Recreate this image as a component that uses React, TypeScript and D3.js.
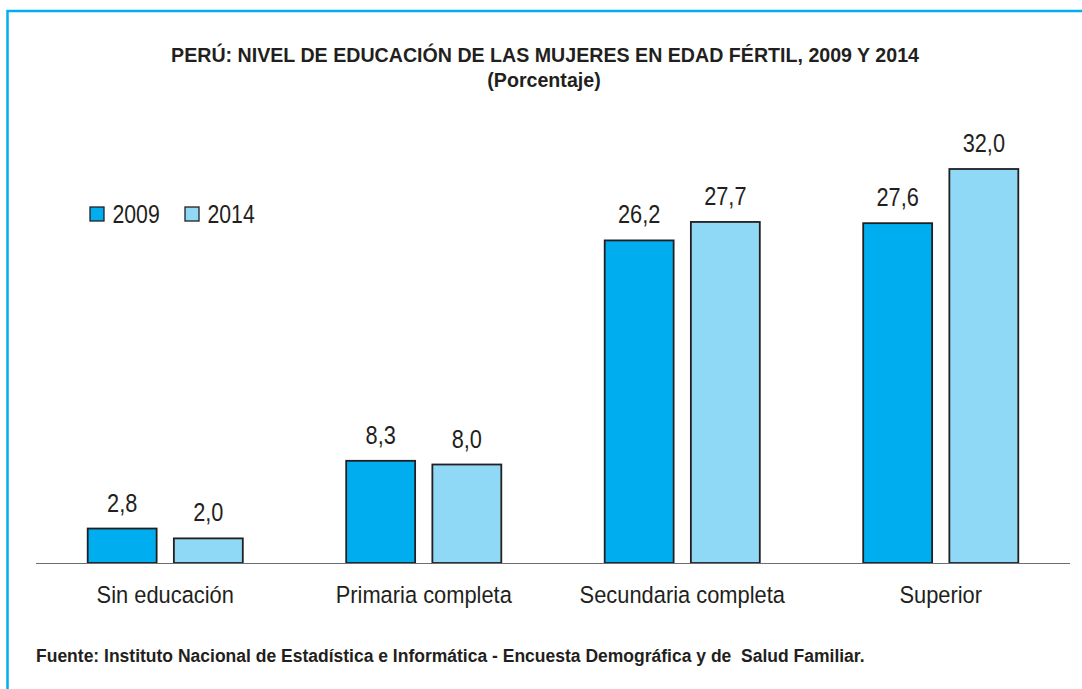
import React, { useRef, useEffect } from 'react';
import * as d3 from 'd3';

const categories = ['Sin educación', 'Primaria completa', 'Secundaria completa', 'Superior'];
const seriesNames = ['2009', '2014'];
const values2009 = [2.8, 8.3, 26.2, 27.6];
const values2014 = [2.0, 8.0, 27.7, 32.0];

const title = 'PERÚ: NIVEL DE EDUCACIÓN DE LAS MUJERES EN EDAD FÉRTIL, 2009 Y 2014';
const subtitle = '(Porcentaje)';
const source = 'Fuente: Instituto Nacional de Estadística e Informática - Encuesta Demográfica y de  Salud Familiar.';

const App = () => {
  const svgRef = useRef(null);

  useEffect(() => {
    const width = 1082;
    const height = 689;
    const font = "'Liberation Sans', Arial, sans-serif";
    const colors = ['#00aeef', '#8fd8f6'];
    const ink = '#231f20';

    const svg = d3.select(svgRef.current)
      .attr('width', width)
      .attr('height', height)
      .style('background', '#fff');
    svg.selectAll('*').remove();

    // no condensed font installed, so squeeze text horizontally
    const narrowText = (parent, x, y, size, sx, anchor, weight, str) => {
      parent.append('g')
        .attr('transform', `translate(${x},${y}) scale(${sx},1)`)
        .append('text')
        .attr('text-anchor', anchor)
        .style('font-family', font)
        .style('font-size', `${size}px`)
        .style('font-weight', weight)
        .style('white-space', 'pre')
        .attr('fill', ink)
        .text(str);
    };

    // frame (only top and left edges visible)
    svg.append('path')
      .attr('d', `M7.5,${height} V11 H${width}`)
      .attr('fill', 'none')
      .attr('stroke', '#00aeef')
      .attr('stroke-width', 2.5);

    narrowText(svg, 545, 62, 21, 0.935, 'middle', 'bold', title);
    narrowText(svg, 544, 87, 21, 0.935, 'middle', 'bold', subtitle);

    const data = categories.map((c, i) => ({ cat: c, vals: [values2009[i], values2014[i]] }));

    const x0 = d3.scaleBand().domain(categories).range([36, 1070]).paddingInner(0.4).paddingOuter(0.2);
    const x1 = d3.scaleBand().domain(seriesNames).range([0, x0.bandwidth()]).paddingInner(0.2);
    const y = d3.scaleLinear().domain([0, 32]).range([563, 169]);

    const groups = svg.append('g').selectAll('g')
      .data(data)
      .enter()
      .append('g')
      .attr('transform', d => `translate(${x0(d.cat)},0)`);

    const bars = groups.selectAll('g')
      .data(d => d.vals.map((v, i) => ({ key: seriesNames[i], v, i })))
      .enter()
      .append('g');

    bars.append('rect')
      .attr('x', d => x1(d.key))
      .attr('y', d => y(d.v))
      .attr('width', x1.bandwidth())
      .attr('height', d => y(0) - y(d.v))
      .attr('fill', d => colors[d.i])
      .attr('stroke', ink)
      .attr('stroke-width', 1.8);

    bars.each(function (d) {
      narrowText(d3.select(this), x1(d.key) + x1.bandwidth() / 2, y(d.v) - 17, 25, 0.87, 'middle', 'normal',
        d3.format('.1f')(d.v).replace('.', ','));
    });

    // baseline
    svg.append('line')
      .attr('x1', 36).attr('x2', 1070)
      .attr('y1', y(0) + 0.5).attr('y2', y(0) + 0.5)
      .attr('stroke', '#6d6e71')
      .attr('stroke-width', 1.2);

    categories.forEach(c => {
      narrowText(svg, x0(c) + x0.bandwidth() / 2, 603, 23.5, 0.93, 'middle', 'normal', c);
    });

    // legend
    const legendX = [90, 185];
    seriesNames.forEach((s, i) => {
      svg.append('rect')
        .attr('x', legendX[i]).attr('y', 207)
        .attr('width', 14).attr('height', 14)
        .attr('fill', colors[i])
        .attr('stroke', ink).attr('stroke-width', 1.3);
      narrowText(svg, legendX[i] + 22.5, 223, 25, 0.85, 'start', 'normal', s);
    });

    narrowText(svg, 36, 662, 17.5, 1, 'start', 'bold', source);
  }, []);

  return <svg ref={svgRef} style={{ position: 'absolute', left: 0, top: 0 }}></svg>;
};

export default App;
